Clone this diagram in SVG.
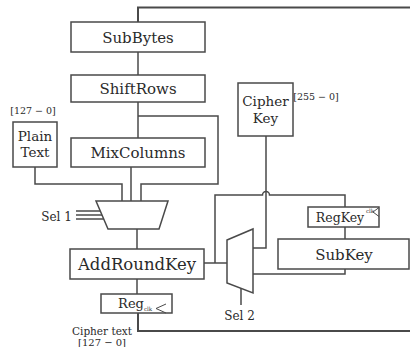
<svg xmlns="http://www.w3.org/2000/svg" width="410" height="347" viewBox="0 0 410 347">
<style>
.box{fill:#fff;stroke:#4a4a4a;stroke-width:1.5}
.ln{fill:none;stroke:#4a4a4a;stroke-width:1.5}
text{font-family:'DejaVu Serif','Liberation Serif',serif;fill:#2a2a2a;text-anchor:middle}
.big{font-size:15px}
.mid{font-size:13.5px}
.sm{font-size:9.5px}
</style>
<rect width="410" height="347" fill="#fff"/>
<g id="connectors">
<polyline class="ln" points="138,22 138,7.5 410,7.5" style="stroke-width:2"/>
<line class="ln" x1="138" y1="52" x2="138" y2="75"/>
<line class="ln" x1="138" y1="102" x2="138" y2="138"/>
<polyline class="ln" points="138,116 218,116 218,184 141,184 141,201"/>
<polyline class="ln" points="35,167 35,184 122,184 122,201"/>
<line class="ln" x1="131" y1="167" x2="131" y2="201"/>
<line class="ln" x1="76" y1="211" x2="100.5" y2="211"/>
<line class="ln" x1="76" y1="215" x2="102" y2="215"/>
<line class="ln" x1="76" y1="219" x2="103.7" y2="219"/>
<line class="ln" x1="137" y1="229" x2="137" y2="249"/>
<line class="ln" x1="137" y1="279" x2="137" y2="294"/>
<polyline class="ln" points="138,313 138,331 410,331" style="stroke-width:2"/>
<line class="ln" x1="204" y1="263" x2="227" y2="263"/>
<path class="ln" d="M215,263 V195 H262.5 A3.5,3.5 0 0 1 269.5,195 H345 V207"/>
<polyline class="ln" points="266,136 266,248 253,248"/>
<line class="ln" x1="345" y1="227" x2="345" y2="239"/>
<polyline class="ln" points="345,269 345,274 253,274"/>
<line class="ln" x1="241" y1="288" x2="241" y2="305"/>
</g>
<g id="subbytes"><rect class="box" x="71" y="22" width="134" height="30"/><text class="big" x="138" y="42.5">SubBytes</text></g>
<g id="shiftrows"><rect class="box" x="71" y="75" width="134" height="27"/><text class="big" x="138" y="94">ShiftRows</text></g>
<g id="mixcolumns"><rect class="box" x="71" y="138" width="134" height="29"/><text class="big" x="138" y="158">MixColumns</text></g>
<g id="plaintext"><text class="sm" x="33" y="113.5">[127 − 0]</text><rect class="box" x="13" y="122" width="44" height="45"/><text class="mid" x="35" y="141">Plain</text><text class="mid" x="35" y="157">Text</text></g>
<g id="cipherkey"><rect class="box" x="238" y="83" width="55" height="53"/><text class="mid" x="265.5" y="106">Cipher</text><text class="mid" x="265.5" y="123">Key</text><text class="sm" x="316" y="100">[255 − 0]</text></g>
<g id="mux1"><polygon class="box" points="96,201 168,201 159,229 108,229"/><text style="font-size:12px" x="56.5" y="221">Sel 1</text></g>
<g id="addroundkey"><rect class="box" x="70" y="249" width="134" height="30"/><text style="font-size:16.5px" x="137" y="270">AddRoundKey</text></g>
<g id="reg"><rect class="box" x="101" y="294" width="71" height="19"/><text style="font-size:13px" x="131" y="308">Reg</text><text style="font-size:5.5px" x="148" y="311">clk</text><polyline class="ln" points="166,304 156,308.5 166,313" style="stroke-width:1"/></g>
<g id="mux2"><polygon class="box" points="227,240 253,229 253,293 227,283"/><text style="font-size:12px" x="239.5" y="320">Sel 2</text></g>
<g id="regkey"><rect class="box" x="308" y="207" width="71" height="20"/><text style="font-size:12.5px" x="340" y="221.5">RegKey</text><text style="font-size:5.5px" x="370" y="212.5">clk</text><polyline class="ln" points="379,207.5 373,212 379,216.5" style="stroke-width:1"/></g>
<g id="subkey"><rect class="box" x="278" y="239" width="131" height="30"/><text class="big" x="344" y="259.5">SubKey</text></g>
<g id="ciphertext"><text style="font-size:10.5px" x="102" y="335">Cipher text</text><text style="font-size:10px" x="102" y="346">[127 − 0]</text></g>
</svg>
